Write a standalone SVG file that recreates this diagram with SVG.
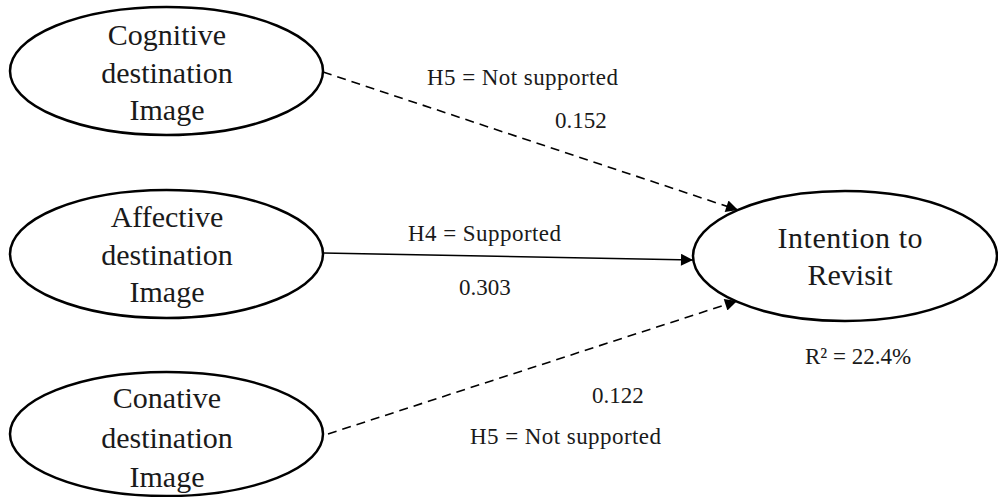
<svg xmlns="http://www.w3.org/2000/svg" width="998" height="497" viewBox="0 0 998 497">
<style>
.node ellipse{fill:#fff;stroke:#000;stroke-width:2.5}
.nt{font-family:"Liberation Serif","Times New Roman",serif;font-size:30px;fill:#1a1a1a;text-anchor:middle}
.lb{font-family:"Liberation Serif","Times New Roman",serif;font-size:23px;fill:#1a1a1a}
.conn line{stroke:#000;stroke-width:1.6;fill:none}
.dash{stroke-dasharray:9 6}
</style>
<defs>
<marker id="arrL" viewBox="0 0 10 10" refX="10" refY="5" markerWidth="14" markerHeight="12" markerUnits="userSpaceOnUse" orient="auto">
<path d="M0,0 L10,5 L0,10 z" fill="#000"/>
</marker>
</defs>
<rect width="998" height="497" fill="#fff"/>
<g class="conn" id="connectors">
<line class="dash" x1="323" y1="72" x2="738" y2="210" marker-end="url(#arrL)"/>
<line x1="323" y1="253" x2="693" y2="260" marker-end="url(#arrL)"/>
<line class="dash" x1="328" y1="434" x2="737" y2="301" marker-end="url(#arrL)"/>
</g>
<g class="node" id="cognitive">
<ellipse cx="166.5" cy="71" rx="156.5" ry="64"/>
<text class="nt" x="167" y="45">Cognitive</text>
<text class="nt" x="167" y="83">destination</text>
<text class="nt" x="167" y="120">Image</text>
</g>
<g class="node" id="affective">
<ellipse cx="166.5" cy="254" rx="156.5" ry="64"/>
<text class="nt" x="167" y="227">Affective</text>
<text class="nt" x="167" y="265">destination</text>
<text class="nt" x="167" y="302">Image</text>
</g>
<g class="node" id="conative">
<ellipse cx="166.5" cy="434" rx="156.5" ry="62"/>
<text class="nt" x="167" y="408">Conative</text>
<text class="nt" x="167" y="448">destination</text>
<text class="nt" x="167" y="487">Image</text>
</g>
<g class="node" id="intention">
<ellipse cx="845" cy="256" rx="152" ry="65"/>
<text class="nt" x="850" y="248" textLength="145">Intention to</text>
<text class="nt" x="850" y="285">Revisit</text>
</g>
<g id="labels">
<text class="lb" x="427" y="85" textLength="191">H5 = Not supported</text>
<text class="lb" x="555" y="128">0.152</text>
<text class="lb" x="408" y="241" textLength="153">H4 = Supported</text>
<text class="lb" x="459" y="295">0.303</text>
<text class="lb" x="592" y="403">0.122</text>
<text class="lb" x="470" y="444" textLength="191">H5 = Not supported</text>
<text class="lb" x="805" y="364">R² = 22.4%</text>
</g>
</svg>
